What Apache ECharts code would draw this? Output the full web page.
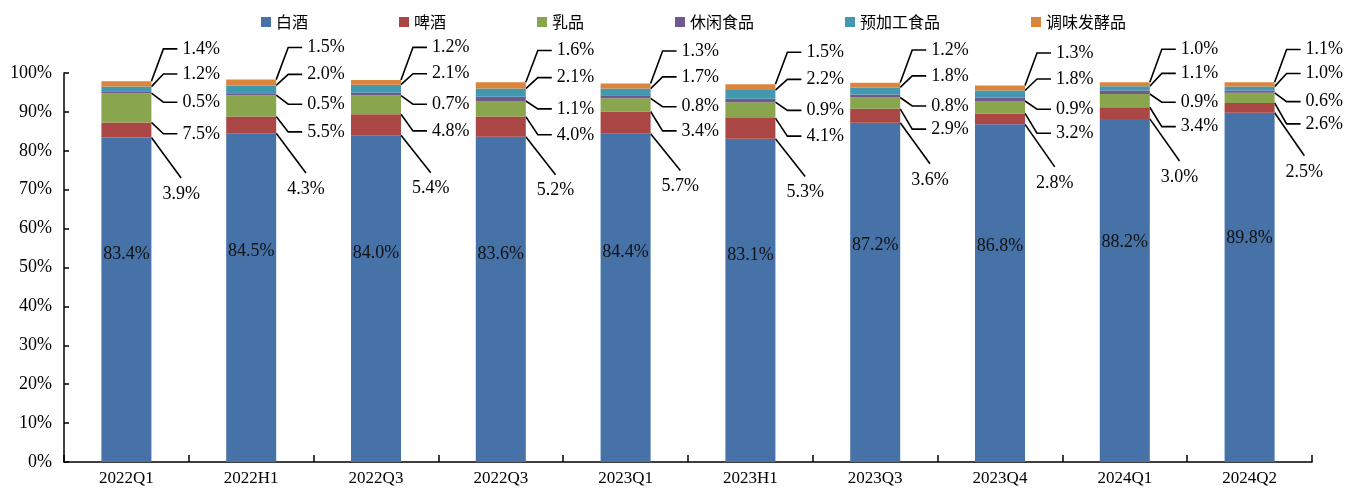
<!DOCTYPE html>
<html>
<head>
<meta charset="utf-8">
<script src="https://cdn.jsdelivr.net/npm/echarts@6/dist/echarts.min.js"></script>
<style>
html,body{margin:0;padding:0;background:#fff;}
#c{width:1357px;height:488px;}
</style>
</head>
<body>
<div id="c"></div>
<script>
const categories = ['2022Q1','2022H1','2022Q3','2022Q3','2023Q1','2023H1','2023Q3','2023Q4','2024Q1','2024Q2'];
const seriesNames = ['白酒','啤酒','乳品','休闲食品','预加工食品','调味发酵品'];
const baijiu   = [83.4, 84.5, 84.0, 83.6, 84.4, 83.1, 87.2, 86.8, 88.2, 89.8];
const pijiu    = [3.9, 4.3, 5.4, 5.2, 5.7, 5.3, 3.6, 2.8, 3.0, 2.5];
const rupin    = [7.5, 5.5, 4.8, 4.0, 3.4, 4.1, 2.9, 3.2, 3.4, 2.6];
const xiuxian  = [0.5, 0.5, 0.7, 1.1, 0.8, 0.9, 0.8, 0.9, 0.9, 0.6];
const yujiagong= [1.2, 2.0, 2.1, 2.1, 1.7, 2.2, 1.8, 1.8, 1.1, 1.0];
const tiaowei  = [1.4, 1.5, 1.2, 1.6, 1.3, 1.5, 1.2, 1.3, 1.0, 1.1];
const yTicks = [0,10,20,30,40,50,60,70,80,90,100];

const values = [baijiu, pijiu, rupin, xiuxian, yujiagong, tiaowei];
const colors = ['#4672A8','#AA4643','#89A54E','#71588F','#4198AF','#DB843D'];
// label placement rules per series: vertical offset from segment centre and horizontal gap from bar edge
const labelDy = [0, 64, 26, 10, -15, -35];
const labelDx = [0, 11, 26, 26, 26, 26];
const serif = '"Liberation Serif","Times New Roman",serif';

const chart = echarts.init(document.getElementById('c'));
const series = values.map((arr, si) => {
  const s = {
    name: seriesNames[si],
    type: 'bar',
    stack: 'total',
    barWidth: 50,
    data: arr,
    itemStyle: { color: colors[si] },
    label: {
      show: true,
      fontFamily: serif,
      fontSize: 18,
      color: '#000',
      formatter: p => p.value.toFixed(1) + '%'
    }
  };
  if (si === 0) {
    s.label.position = ['50%', '36%'];
    s.label.align = 'center';
    s.label.verticalAlign = 'middle';
    s.label.color = '#111';
  } else {
    s.label.backgroundColor = 'rgba(255,255,255,0)';
    s.label.padding = si === 1 ? [14, 0, 0, 0] : [0, 0, 0, 5];
    s.labelLine = { show: true, length2: si === 1 ? 0 : 14, minTurnAngle: 0, lineStyle: { color: '#000', width: 1.6 } };
    s.labelLayout = function (params) {
      const r = params.rect;
      return {
        x: r.x + r.width + labelDx[si],
        y: r.y + r.height / 2 + labelDy[si],
        align: 'left',
        verticalAlign: 'middle'
      };
    };
  }
  return s;
});

chart.setOption({
  animation: false,
  backgroundColor: '#fff',
  legend: {
    top: 9,
    left: 256,
    itemWidth: 10,
    itemHeight: 10,
    itemGap: 91,
    icon: 'rect',
    textStyle: { fontFamily: '"Noto Sans CJK SC",sans-serif', fontSize: 16, color: '#000' },
    data: seriesNames
  },
  grid: { left: 64, right: 45, top: 73, bottom: 26, containLabel: false },
  xAxis: {
    type: 'category',
    data: categories,
    axisLine: { lineStyle: { color: '#000', width: 1.5 } },
    axisTick: { show: true, inside: true, length: 7, lineStyle: { color: '#000', width: 1.5 } },
    axisLabel: { fontFamily: serif, fontSize: 17, color: '#000', margin: 8 }
  },
  yAxis: {
    type: 'value',
    min: 0,
    max: 100,
    interval: 10,
    splitLine: { show: false },
    axisLine: { show: true, lineStyle: { color: '#000', width: 1.5 } },
    axisTick: { show: true, inside: true, length: 5, lineStyle: { color: '#000', width: 1.5 } },
    axisLabel: { fontFamily: serif, fontSize: 18, color: '#000', margin: 12,
      formatter: v => yTicks.includes(v) ? v + '%' : '' }
  },
  series: series
});
</script>
</body>
</html>
